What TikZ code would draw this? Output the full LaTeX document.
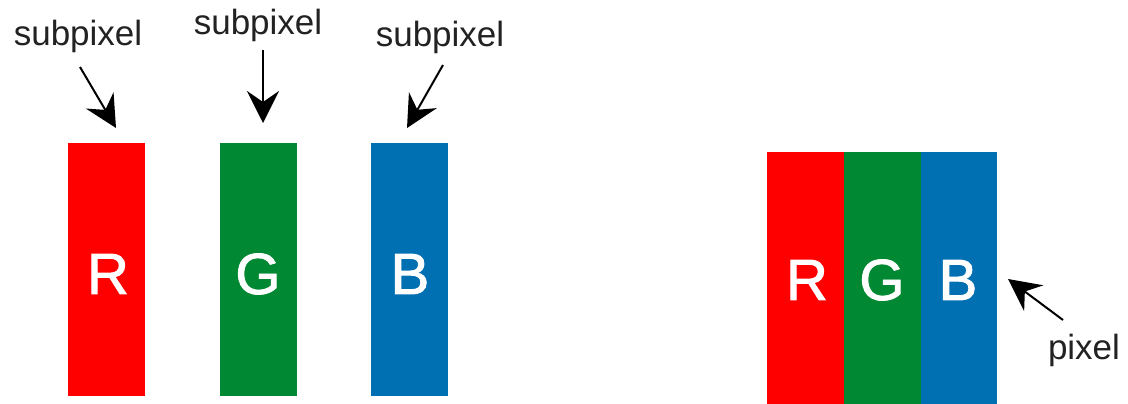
\documentclass[tikz,border=0pt]{standalone}
\usepackage{fontspec}
\setmainfont{Liberation Sans}
\newfontfamily\letterfont[FakeBold=1.6]{Liberation Sans}
\usetikzlibrary{arrows.meta}
\definecolor{subred}{HTML}{FF0000}
\definecolor{subgreen}{HTML}{008932}
\definecolor{subblue}{HTML}{0070B2}
\definecolor{labelgray}{HTML}{222222}
\begin{document}
\begin{tikzpicture}[x=1pt,y=-1pt,
  bar/.style={inner sep=0pt,outer sep=0pt,minimum width=77pt},
  letter/.style={text=white,font=\letterfont\fontsize{58}{60}\selectfont,inner sep=0pt},
  lbl/.style={text=labelgray,font=\fontsize{35}{38}\selectfont,inner sep=0pt},
  ptr/.style={line width=2pt,-{Stealth[length=32pt,width=32pt,inset=11pt]}}]
\useasboundingbox (0,0) rectangle (1128,404);
% left subpixels
\fill[subred] (68,143) rectangle (145,396);
\fill[subgreen] (220,143) rectangle (297,396);
\fill[subblue] (371,143) rectangle (448,396);
\node[bar,minimum height=253pt] (r) at (106.5,269.5) {};
\node[bar,minimum height=253pt] (g) at (258.5,269.5) {};
\node[bar,minimum height=253pt] (b) at (409.5,269.5) {};
\node[letter] (rl) at (108,274) {R};
\node[letter] (gl) at (258,274) {G};
\node[letter] (bl) at (410,274) {B};
% labels
\node[lbl] (s1) at (78,36) {subpixel};
\node[lbl] (s2) at (258,25) {subpixel};
\node[lbl] (s3) at (440,37) {subpixel};
\coordinate (t1) at (80,67);
\coordinate (h1) at (116,128);
\coordinate (t2) at (263,50);
\coordinate (h2) at (263,123);
\coordinate (t3) at (443,65);
\coordinate (h3) at (407,128);
\draw[ptr] (t1) -- (h1);
\draw[ptr] (t2) -- (h2);
\draw[ptr] (t3) -- (h3);
% right pixel
\fill[subred] (767,152) rectangle (844,404);
\fill[subgreen] (844,152) rectangle (921,404);
\fill[subblue] (921,152) rectangle (997,404);
\node[inner sep=0pt,outer sep=0pt,minimum width=230pt,minimum height=252pt] (px) at (882,278) {};
\node[letter] (prl) at (807,280) {R};
\node[letter] (pgl) at (882,280) {G};
\node[letter] (pbl) at (958,280) {B};
\node[lbl] (pl) at (1084,350) {pixel};
\coordinate (t4) at (1063,320);
\coordinate (h4) at (1008,279);
\draw[ptr] (t4) -- (h4);
\end{tikzpicture}
\end{document}
